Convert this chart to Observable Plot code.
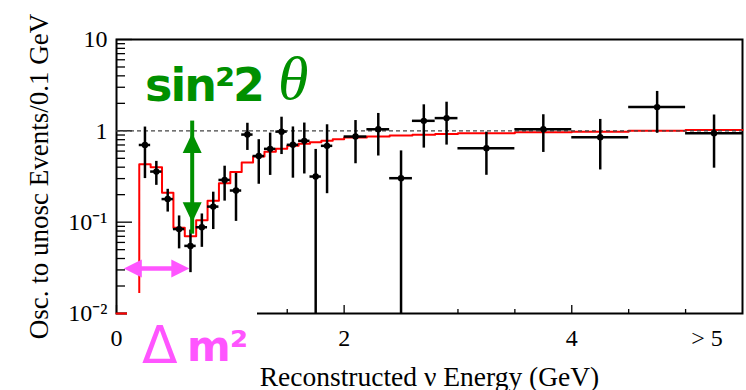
<!DOCTYPE html>
<html>
<head>
<meta charset="utf-8">
<script src="https://cdn.jsdelivr.net/npm/d3@7"></script>
<script src="https://cdn.jsdelivr.net/npm/@observablehq/plot@0.6"></script>
<style>
  body { margin: 0; background: #fff; }
  #chart { position: relative; width: 746px; height: 390px; overflow: hidden; background: #fff; }
  #chart svg { display: block; }
  .cut { position: absolute; left: 235px; top: -28px; font: 27px/27px "Liberation Serif", serif; white-space: nowrap; }
  .amp { position: absolute; left: 145px; top: 62px; color: #009000; font: bold 46px/46px "DejaVu Sans", sans-serif; letter-spacing: -2px; white-space: nowrap; }
  .theta { position: absolute; left: 278px; top: 47px; color: #009000; font: italic 62px/62px "Liberation Serif", serif; }
  .dm { position: absolute; left: 127px; top: 293px; width: 130px; height: 97px; background: #fff; color: #ff55ff; }
  .dm .delta { position: absolute; left: 15px; top: 26px; font: 52px/52px "DejaVu Sans", sans-serif; }
  .dm .m { position: absolute; left: 60px; top: 33px; font: bold 42px/42px "DejaVu Sans", sans-serif; letter-spacing: -1px; white-space: nowrap; }
</style>
</head>
<body>
<div id="chart">
  <div id="plot"></div>
  <div class="cut">Reconstructed ν Energy (GeV)</div>
  <div class="amp">sin²2</div>
  <div class="theta">θ</div>
  <div class="dm"><span class="delta">Δ</span><span class="m">m²</span></div>
</div>
<script>
// Measured ratio of oscillated to unoscillated events per energy bin
const binCenter = [0.25, 0.35, 0.45, 0.55, 0.65, 0.75, 0.85, 0.95, 1.05, 1.15, 1.25, 1.35, 1.45, 1.55, 1.65, 1.75, 1.85,
                   2.1, 2.3, 2.5, 2.7, 2.9, 3.25, 3.75, 4.25, 4.75, 5.25];
const binHalfWidth = [0.05, 0.05, 0.05, 0.05, 0.05, 0.05, 0.05, 0.05, 0.05, 0.05, 0.05, 0.05, 0.05, 0.05, 0.05, 0.05, 0.05,
                      0.1, 0.1, 0.1, 0.1, 0.1, 0.25, 0.25, 0.25, 0.25, 0.25];
const ratio = [0.70, 0.358, 0.179, 0.084, 0.055, 0.088, 0.148, 0.29, 0.222, 0.91, 0.53, 0.635, 0.98, 0.703, 0.777, 0.316, 0.685,
               0.866, 1.04, 0.303, 1.287, 1.378, 0.646, 1.04, 0.853, 1.82, 0.94];
const ratioError = [0.40, 0.105, 0.05, 0.033, 0.027, 0.035, 0.065, 0.12, 0.12, 0.30, 0.27, 0.31, 0.43, 0.40, 0.44, 0.31, 0.48,
                    0.43, 0.51, 0.30, 0.64, 0.68, 0.32, 0.46, 0.48, 0.88, 0.55];

// Expected ratio for the oscillation fit, as a step histogram (edges has one more entry than values)
const histEdges = [0, 0.2, 0.3, 0.4, 0.5, 0.6, 0.7, 0.8, 0.9, 1.0, 1.1, 1.2, 1.3, 1.4, 1.5, 1.6, 1.7, 1.8, 1.9,
                   2.0, 2.2, 2.4, 2.6, 2.8, 3.0, 3.5, 4.0, 4.5, 5.0, 5.5];
const histRatio = [0.01, 0.43, 0.40, 0.21, 0.087, 0.07, 0.105, 0.172, 0.266, 0.355, 0.45, 0.523, 0.59, 0.635, 0.685, 0.72, 0.75, 0.78,
                   0.81, 0.845, 0.866, 0.89, 0.905, 0.925, 0.94, 0.965, 0.98, 1.0, 1.02];

// No-oscillation reference level
const unity = [1];

// Axis ticks and labels
const yTickValues = [0.01, 0.1, 1, 10];
const yTickLabels = ["10⁻²", "10⁻¹", "1", "10"];
const yMinorTicks = [0.02, 0.03, 0.04, 0.05, 0.06, 0.07, 0.08, 0.09,
                     0.2, 0.3, 0.4, 0.5, 0.6, 0.7, 0.8, 0.9,
                     2, 3, 4, 5, 6, 7, 8, 9];
const xTickValues = [0, 2, 4];
const xTickLabels = ["0", "2", "4"];
const xMinorTicks = [0.5, 1, 1.5, 2.5, 3, 3.5, 4.5, 5];
const overflowTick = [5.25];
const overflowLabel = "> 5";
const xTitle = "Reconstructed ν Energy (GeV)";
const yTitle = "Osc. to unosc Events/0.1 GeV";

// Annotation arrows: depth of the dip (mixing) and its position (mass splitting)
const mixingArrow = [{energy: 0.665, top: 0.945, bottom: 0.10}];
const massArrow = [{level: 0.031, from: 0.064, to: 0.64}];

const points = binCenter.map((e, i) => ({
  e, lo: e - binHalfWidth[i], hi: e + binHalfWidth[i],
  r: ratio[i], rLo: ratio[i] - ratioError[i], rHi: ratio[i] + ratioError[i]
}));
const hist = histEdges.map((e, i) => ({e, r: histRatio[Math.min(i, histRatio.length - 1)]}));

const W = 746, H = 390, ML = 116, MR = 4, MT = 39, MB = 77;
const innerW = W - ML - MR, innerH = H - MT - MB;

// Filled arrowheads with the tip at the anchor point
const headUp = {draw(c) { c.moveTo(0, 0); c.lineTo(-9.5, 20); c.lineTo(9.5, 20); c.closePath(); }};
const headDown = {draw(c) { c.moveTo(0, 0); c.lineTo(-9.5, -20); c.lineTo(9.5, -20); c.closePath(); }};
const headLeft = {draw(c) { c.moveTo(0, 0); c.lineTo(18, -9); c.lineTo(18, 9); c.closePath(); }};
const headRight = {draw(c) { c.moveTo(0, 0); c.lineTo(-18, -9); c.lineTo(-18, 9); c.closePath(); }};

const green = "#009000", pink = "#ff55ff";

const chart = Plot.plot({
  width: W, height: H,
  marginLeft: ML, marginRight: MR, marginTop: MT, marginBottom: MB,
  style: {fontFamily: "'Liberation Serif', serif", fontSize: "24px", color: "black", background: "white"},
  x: {domain: [0, 5.5]},
  y: {type: "log", domain: [0.01, 10], clamp: true},
  marks: [
    Plot.frame({stroke: "black", strokeWidth: 2}),
    // inward ticks
    Plot.tickY(yTickValues, {y: d => d, stroke: "black", strokeWidth: 1.3, insetRight: innerW - 16}),
    Plot.tickY(yMinorTicks, {y: d => d, stroke: "black", strokeWidth: 1.3, insetRight: innerW - 9}),
    Plot.tickX(xTickValues, {x: d => d, stroke: "black", strokeWidth: 1.3, insetTop: innerH - 8}),
    Plot.tickX(xMinorTicks, {x: d => d, stroke: "black", strokeWidth: 1.3, insetTop: innerH - 4}),
    // expectation histogram
    Plot.line(hist, {x: "e", y: "r", curve: "step-after", stroke: "#ff0000", strokeWidth: 2}),
    Plot.ruleY(unity, {y: d => d, stroke: "#444", strokeWidth: 1.2, strokeDasharray: "4,3"}),
    // data with error bars
    Plot.ruleX(points, {x: "e", y1: "rLo", y2: "rHi", stroke: "black", strokeWidth: 2.5}),
    Plot.ruleY(points, {y: "r", x1: "lo", x2: "hi", stroke: "black", strokeWidth: 2.5}),
    Plot.dot(points, {x: "e", y: "r", r: 3.2, fill: "black"}),
    // mixing arrow
    Plot.ruleX(mixingArrow, {x: "energy", y1: "bottom", y2: "top", stroke: green, strokeWidth: 4, insetTop: 12, insetBottom: 12}),
    Plot.dot(mixingArrow, {x: "energy", y: "top", symbol: headUp, fill: green, stroke: "none"}),
    Plot.dot(mixingArrow, {x: "energy", y: "bottom", symbol: headDown, fill: green, stroke: "none"}),
    // mass-splitting arrow
    Plot.ruleY(massArrow, {y: "level", x1: "from", x2: "to", stroke: pink, strokeWidth: 4.5, insetLeft: 10, insetRight: 10}),
    Plot.dot(massArrow, {x: "from", y: "level", symbol: headLeft, fill: pink, stroke: "none"}),
    Plot.dot(massArrow, {x: "to", y: "level", symbol: headRight, fill: pink, stroke: "none"}),
    // tick labels
    Plot.axisY(yTickValues, {tickSize: 0, tickPadding: 9, tickFormat: d => yTickLabels[yTickValues.indexOf(d)], label: null, fontSize: 24}),
    Plot.axisX(xTickValues, {tickSize: 0, tickPadding: 15, tickFormat: d => xTickLabels[xTickValues.indexOf(d)], label: null, fontSize: 24}),
    Plot.axisX(overflowTick, {tickSize: 0, tickPadding: 15, tickFormat: () => overflowLabel, label: null, fontSize: 24, dx: -7}),
    // axis titles
    Plot.text([xTitle], {frameAnchor: "bottom", textAnchor: "middle", lineAnchor: "middle", dy: 63.5, fontSize: 27.5}),
    Plot.text([yTitle], {frameAnchor: "left", rotate: -90, textAnchor: "middle", lineAnchor: "middle", dx: -77, fontSize: 27})
  ]
});
document.getElementById("plot").append(chart);
</script>
</body>
</html>
